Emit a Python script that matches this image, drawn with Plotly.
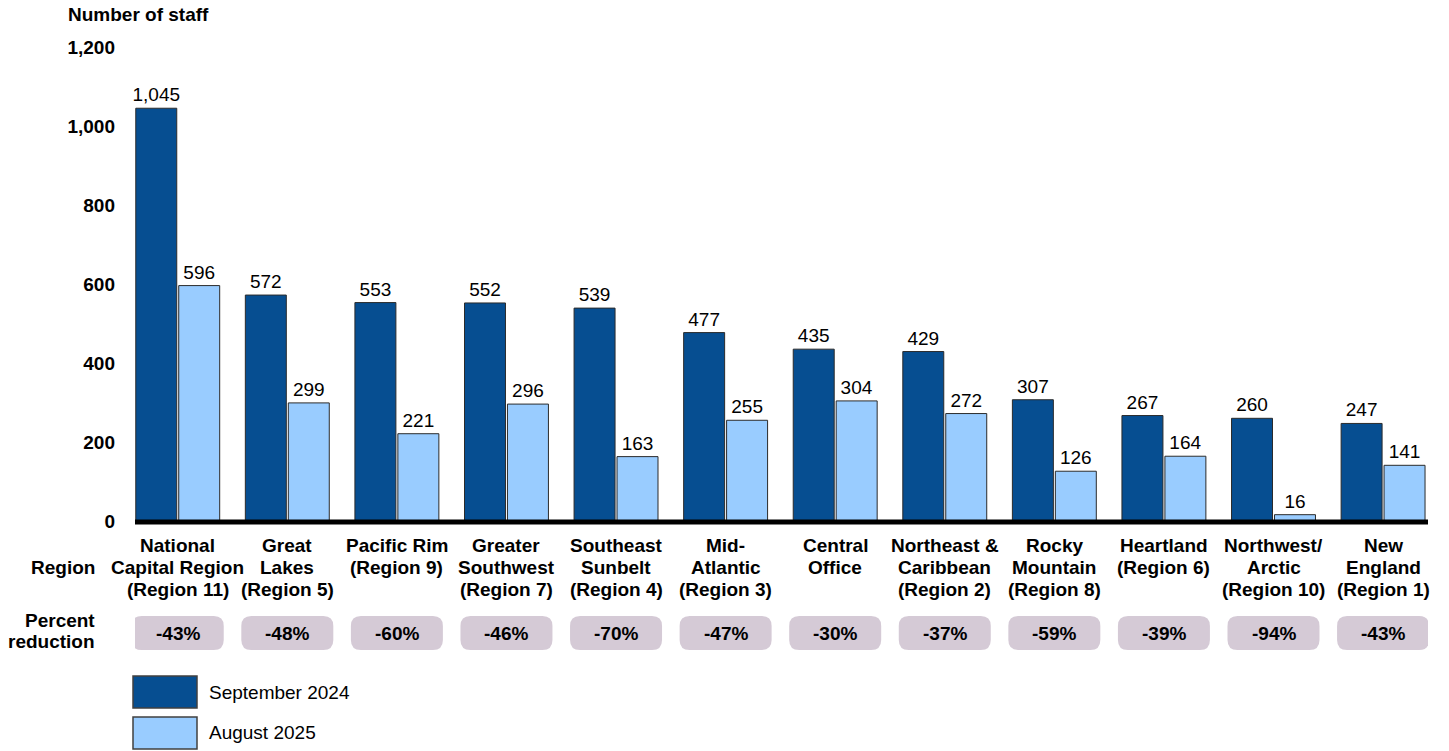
import plotly.graph_objects as go

# Staff counts by region
regions = [
    "National<br>Capital Region<br>(Region 11)",
    "Great<br>Lakes<br>(Region 5)",
    "Pacific Rim<br>(Region 9)",
    "Greater<br>Southwest<br>(Region 7)",
    "Southeast<br>Sunbelt<br>(Region 4)",
    "Mid-<br>Atlantic<br>(Region 3)",
    "Central<br>Office",
    "Northeast &<br>Caribbean<br>(Region 2)",
    "Rocky<br>Mountain<br>(Region 8)",
    "Heartland<br>(Region 6)",
    "Northwest/<br>Arctic<br>(Region 10)",
    "New<br>England<br>(Region 1)",
]
sep_2024 = [1045, 572, 553, 552, 539, 477, 435, 429, 307, 267, 260, 247]
aug_2025 = [596, 299, 221, 296, 163, 255, 304, 272, 126, 164, 16, 141]
pct_reduction = ["-43%", "-48%", "-60%", "-46%", "-70%", "-47%",
                 "-30%", "-37%", "-59%", "-39%", "-94%", "-43%"]
y_ticks = [0, 200, 400, 600, 800, 1000, 1200]
series_names = ["September 2024", "August 2025"]

DARK = "#064E91"
LIGHT = "#99CCFF"
PILL = "#D5CAD6"
OUTLINE = "#2b2b2b"
FONT = "Arial, Liberation Sans, sans-serif"
FS = 19

W, H = 1449, 751
ML, MR, MT, MB = 135, 21, 47, 230
PLOT_W = W - ML - MR
PLOT_H = H - MT - MB
X_MIN, X_MAX = -0.39, 11.41


def py(pix):
    """Convert a pixel row to paper y."""
    return (H - MB - pix) / PLOT_H


def px(pix):
    """Convert a pixel column to paper x."""
    return (pix - ML) / PLOT_W


xs = list(range(len(regions)))
BW = 0.374

fig = go.Figure()
fig.add_trace(go.Bar(
    x=xs, y=sep_2024, name=series_names[0], width=BW, offset=-BW - 0.009,
    marker=dict(color=DARK, line=dict(color=OUTLINE, width=1)),
    text=[f"{v:,}" for v in sep_2024], textposition="outside", constraintext="none",
    textfont=dict(family=FONT, size=FS, color="black"), cliponaxis=False,
))
fig.add_trace(go.Bar(
    x=xs, y=aug_2025, name=series_names[1], width=BW, offset=0.009,
    marker=dict(color=LIGHT, line=dict(color=OUTLINE, width=1)),
    text=[f"{v:,}" for v in aug_2025], textposition="outside", constraintext="none",
    textfont=dict(family=FONT, size=FS, color="black"), cliponaxis=False,
))

shapes = []
annotations = []

# Baseline
shapes.append(dict(type="line", xref="paper", yref="paper", x0=0, x1=1,
                   y0=py(522), y1=py(522),
                   line=dict(color="black", width=5), layer="above"))

# Axis title
annotations.append(dict(text="<b>Number of staff</b>", xref="paper", yref="paper",
                        x=px(66), y=py(15), xanchor="left", yanchor="middle",
                        showarrow=False, font=dict(family=FONT, size=FS, color="black")))

# Region labels, one annotation per line
LINE_Y = [545, 567, 589]
for i, lab in enumerate(regions):
    for j, line in enumerate(lab.split("<br>")):
        annotations.append(dict(text=f"<b>{line}</b>", xref="x", yref="paper",
                                x=i, y=py(LINE_Y[j]), xanchor="center", yanchor="middle",
                                showarrow=False,
                                font=dict(family=FONT, size=FS, color="black")))

# Row headers
for txt, yy in [("Region", 567), ("Percent", 620), ("reduction", 641)]:
    annotations.append(dict(text=f"<b>{txt}</b>", xref="paper", yref="paper",
                            x=px(97), y=py(yy), xanchor="right", yanchor="middle",
                            showarrow=False, font=dict(family=FONT, size=FS, color="black")))

# Percent reduction pills
pw, ph, r = 46, 17, 10
pill_path = (f"M {-pw + r},{-ph} L {pw - r},{-ph} Q {pw},{-ph} {pw},{-ph + r} "
             f"L {pw},{ph - r} Q {pw},{ph} {pw - r},{ph} L {-pw + r},{ph} "
             f"Q {-pw},{ph} {-pw},{ph - r} L {-pw},{-ph + r} Q {-pw},{-ph} {-pw + r},{-ph} Z")
for i, pct in enumerate(pct_reduction):
    shapes.append(dict(type="path", xref="x", yref="paper", xsizemode="pixel",
                       ysizemode="pixel", xanchor=i, yanchor=py(633), path=pill_path,
                       fillcolor=PILL, line=dict(width=0), layer="below"))
    annotations.append(dict(text=f"<b>{pct}</b>", xref="x", yref="paper",
                            x=i, y=py(633), xanchor="center", yanchor="middle",
                            showarrow=False, font=dict(family=FONT, size=FS, color="black")))

# Legend
for name, color, (y0, y1) in zip(series_names, [DARK, LIGHT], [(676, 708), (717, 749)]):
    shapes.append(dict(type="rect", xref="paper", yref="paper",
                       x0=px(133), x1=px(197), y0=py(y1), y1=py(y0),
                       fillcolor=color, line=dict(color="#404040", width=1.5)))
    annotations.append(dict(text=name, xref="paper", yref="paper",
                            x=px(207), y=py((y0 + y1) / 2), xanchor="left", yanchor="middle",
                            showarrow=False, font=dict(family=FONT, size=FS, color="black")))

fig.update_layout(
    width=W, height=H,
    margin=dict(l=ML, r=MR, t=MT, b=MB),
    paper_bgcolor="white", plot_bgcolor="white",
    showlegend=False,
    barmode="group",
    font=dict(family=FONT, size=FS, color="black"),
    xaxis=dict(range=[X_MIN, X_MAX], showticklabels=False, showgrid=False,
               zeroline=False, showline=False, ticks=""),
    yaxis=dict(range=[0, 1200], tickvals=y_ticks,
               ticktext=[f"<b>{v:,}</b>" for v in y_ticks],
               showgrid=False, zeroline=False, showline=False, ticks="",
               ticklabelstandoff=19,
               tickfont=dict(family=FONT, size=FS, color="black")),
    shapes=shapes,
    annotations=annotations,
)

fig.write_html("out.html")
